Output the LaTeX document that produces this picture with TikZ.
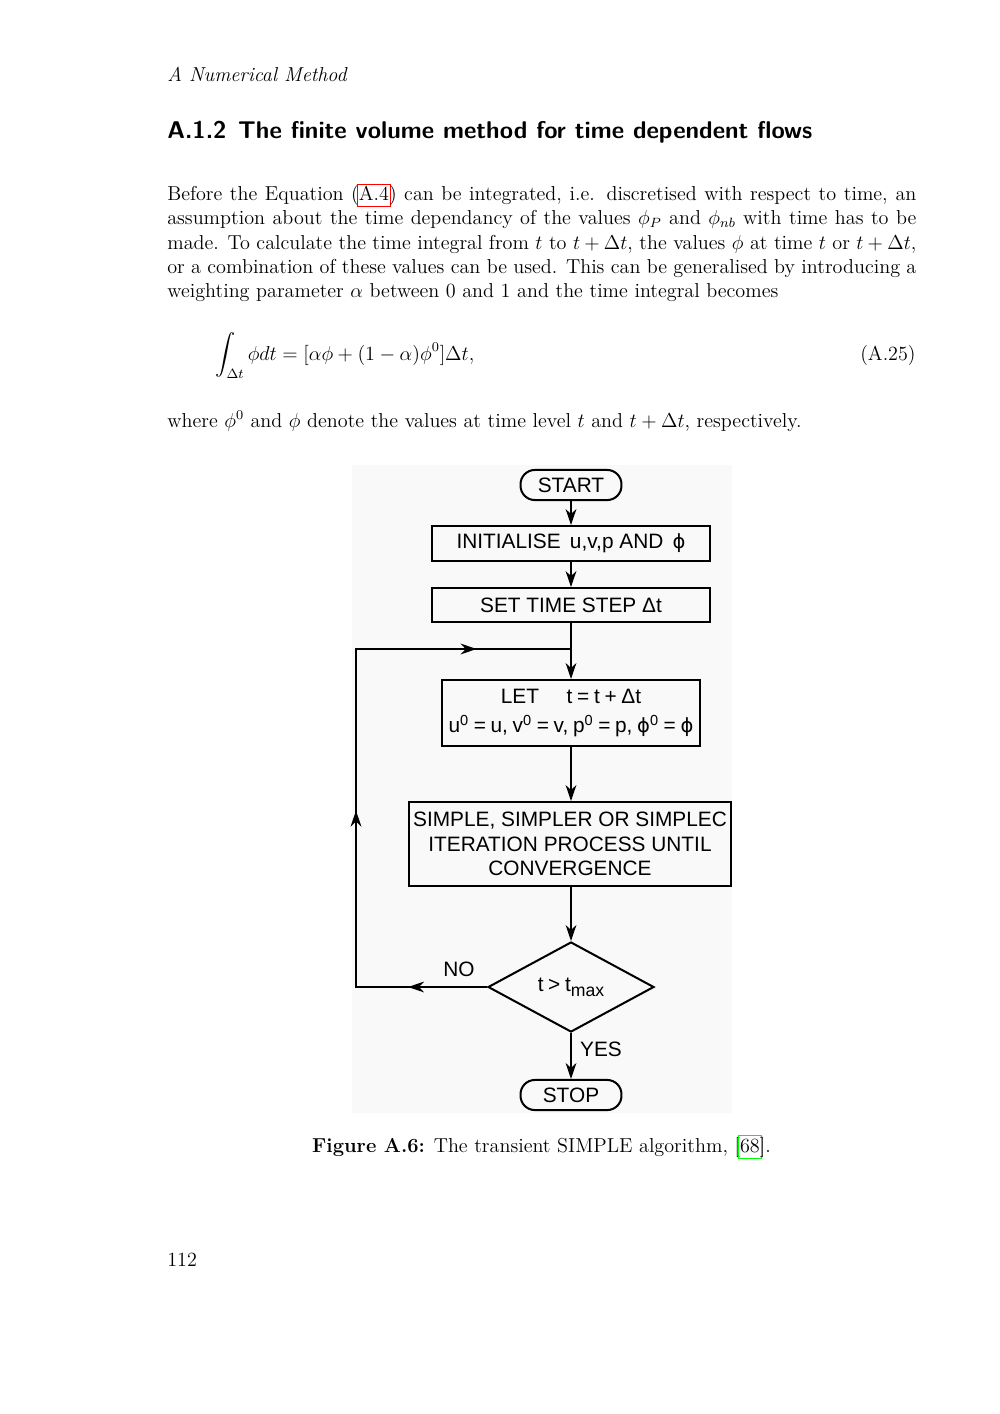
\documentclass[tikz,border=0pt]{standalone}
\usepackage{fontspec}
\usepackage{amsmath}
\usetikzlibrary{arrows.meta,shapes.geometric,decorations.markings}
\newfontfamily\flowfont{Liberation Sans}
\newfontfamily\phifont{DejaVu Sans}
\newcommand\fphi{{\phifont\fontsize{11.6}{14}\selectfont ϕ}}
\newcommand\fsp{\hspace{2.8pt}}
\newcommand\lnkbox[2]{\leavevmode\rlap{\kern-1.1pt\textcolor{#1}{\setlength\fboxsep{0.5pt}\setlength\fboxrule{0.6pt}\fbox{\vphantom{(}\phantom{#2}}}}#2}
\newcommand\jline[1]{\makebox[445.9pt][s]{#1}}
\tikzset{
  body/.style={anchor=base west, inner sep=0pt, font=\fontsize{12}{14.5}\selectfont},
  flowtext/.style={font=\flowfont\fontsize{12.4}{14.5}\selectfont},
  procbox/.style={draw, line width=1.2pt, flowtext, align=center, inner sep=1pt},
  termbox/.style={procbox, rounded corners=8.5pt, minimum width=60.1pt, minimum height=17.9pt},
  decbox/.style={draw, line width=1.2pt, flowtext, shape=diamond, aspect=1.84, inner sep=0pt, minimum width=98.8pt, minimum height=53.6pt},
  tipshape/.tip={Stealth[length=9.5pt,width=6.4pt,inset=3pt]},
  flowline/.style={line width=1.2pt},
  flowarrow/.style={flowline, -tipshape},
}
\begin{document}
\begin{tikzpicture}[x=0.5953pt, y=-0.5953pt]
\useasboundingbox (0,0) rectangle (1000,1414);
% header and text
\node[body, font=\fontsize{12}{14.5}\selectfont\itshape] (hdr) at (167,81) {A Numerical Method};
\node[body, font=\fontsize{14.4}{18}\selectfont\sffamily\bfseries] (sec) at (167,138.5) {A.1.2\hspace{7pt}The finite volume method for time dependent flows};
\node[body] (l1) at (167,200.5) {\jline{Before the Equation (\lnkbox{red}{A.4}) can be integrated, i.e. discretised with respect to time, an}};
\node[body] (l2) at (167,224.9) {\jline{assumption about the time dependancy of the values $\phi_P$ and $\phi_{nb}$ with time has to be}};
\node[body] (l3) at (167,249.2) {\jline{made. To calculate the time integral from $t$ to $t+\Delta t$, the values $\phi$ at time $t$ or $t+\Delta t$,}};
\node[body] (l4) at (167,273.6) {\jline{or a combination of these values can be used. This can be generalised by introducing a}};
\node[body] (l5) at (167,297.9) {weighting parameter $\alpha$ between 0 and 1 and the time integral becomes};
\node[body] (eq) at (215,360) {$\displaystyle\int_{\Delta t}\phi dt = [\alpha\phi + (1-\alpha)\phi^0]\Delta t,$};
\node[body, anchor=base east] (eqn) at (916,360) {(A.25)};
\node[body] (l6) at (167,427) {where $\phi^0$ and $\phi$ denote the values at time level $t$ and $t+\Delta t$, respectively.};
% figure background
\fill[black!2.5] (352,465) rectangle (732,1113);
% flowchart
\node[termbox] (start) at (571,485) {START};
\node[procbox, minimum width=165.5pt, minimum height=20.8pt] (init) at (571,543.5) {INITIALISE\, u,v,p AND\, \fphi};
\node[procbox, minimum width=165.5pt, minimum height=20.2pt] (set) at (571,605) {SET TIME STEP Δt};
\node[procbox, minimum width=153.6pt, minimum height=39.3pt] (let) at (571,713) {LET\hspace{13pt} t\fsp=\fsp t\fsp+\fsp Δt\\[3pt] u\textsuperscript{0}\fsp=\fsp u,\fsp v\textsuperscript{0}\fsp=\fsp v,\fsp p\textsuperscript{0}\fsp=\fsp p,\fsp\fphi\textsuperscript{0}\fsp=\fsp\fphi};
\node[procbox, minimum width=191.7pt, minimum height=50pt] (simple) at (570,844) {SIMPLE, SIMPLER OR SIMPLEC\\ITERATION PROCESS UNTIL\\CONVERGENCE};
\node[decbox] (dec) at (571,987) {t\fsp>\fsp t\raisebox{-3pt}{\fontsize{10.5}{12}\selectfont max}};
\node[termbox] (stop) at (571,1095) {STOP};
\node[flowtext, inner sep=0pt] (no) at (459,969) {NO};
\node[flowtext, inner sep=0pt] (yes) at (601,1049) {YES};
\coordinate (jn) at (571,649);
\coordinate (lb) at (356,987);
\coordinate (lt) at (356,649);
\draw[flowarrow] (start) -- (init);
\draw[flowarrow] (init) -- (set);
\draw[flowarrow] (set) -- (let);
\draw[flowarrow] (let) -- (simple.north -| let.south);
\draw[flowarrow] (simple.south -| dec.north) -- (dec.north);
\draw[flowarrow] (dec) -- (stop);
\draw[flowline, postaction={decorate}, decoration={markings,
    mark=at position 47pt with {\arrow{tipshape}},
    mark=at position 183pt with {\arrow{tipshape}},
    mark=at position 351pt with {\arrow{tipshape}}}]
  (dec.west) -- (lb) -- (lt) -- (jn);
% caption and page number
\node[body, anchor=base] (cap) at (541.5,1152) {\textbf{Figure A.6:} The transient SIMPLE algorithm, [\lnkbox{green}{68}].};
\node[body] (pg) at (167,1266) {112};
\end{tikzpicture}
\end{document}
